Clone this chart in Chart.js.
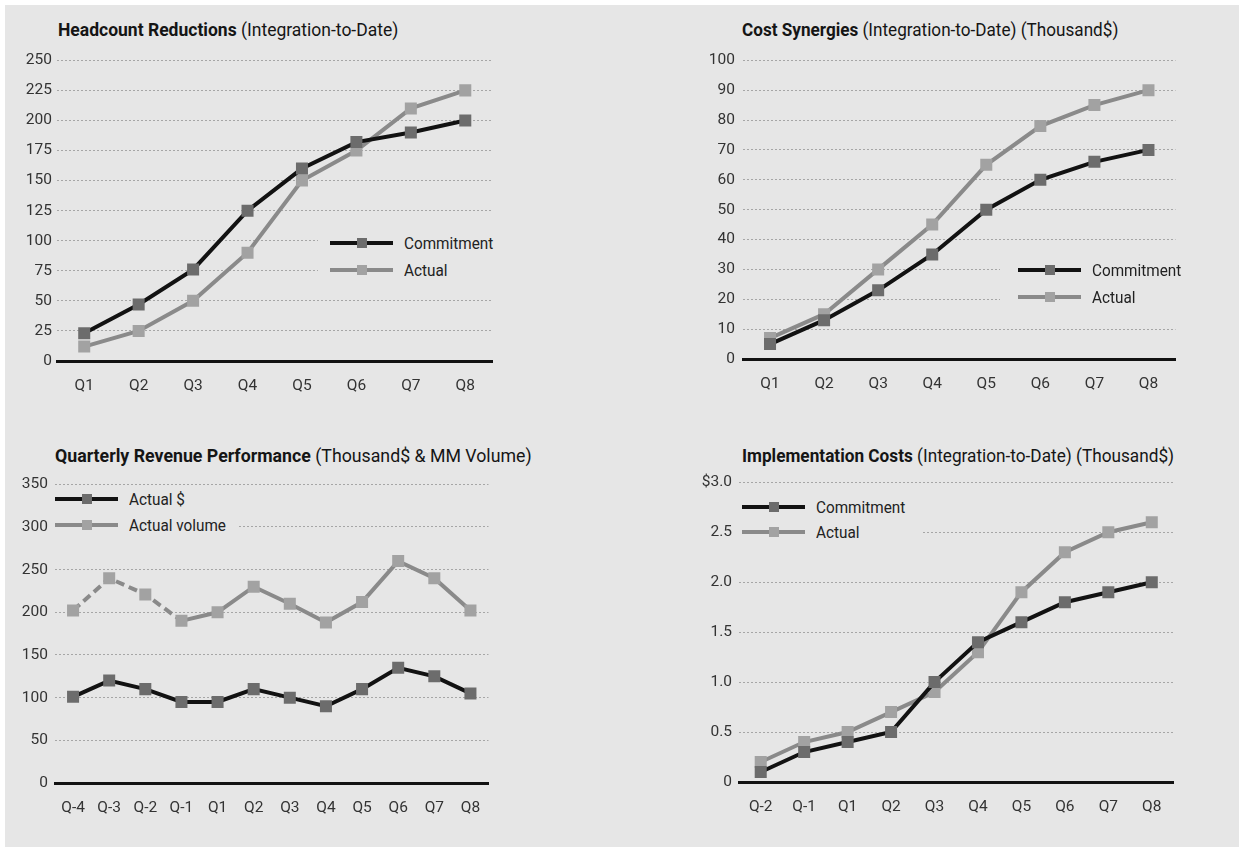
<!DOCTYPE html>
<html>
<head>
<meta charset="utf-8">
<script src="https://cdn.jsdelivr.net/npm/chart.js@4.4.0/dist/chart.umd.min.js"></script>
<style>
  body { margin: 0; width: 1239px; height: 847px; overflow: hidden; position: relative; background: #fff;
         font-family: Roboto, "Liberation Sans", sans-serif; }
  #bg { position: absolute; left: 5px; top: 5px; right: 0; bottom: 0; background: #e6e6e6; }
  canvas { position: absolute; }
  .title { position: absolute; font-size: 19px; color: #151515; white-space: nowrap; line-height: 1;
           transform-origin: 0 50%; }
  .title b { font-weight: bold; }
  .legend { position: absolute; background: #e6e6e6; }
  .item { position: absolute; left: 0; height: 20px; width: 100%; }
  .item .ln { position: absolute; left: 0; top: 8px; width: 63px; height: 4px; }
  .item .mk { position: absolute; left: 27px; top: 5px; width: 10px; height: 10px; }
  .item span { position: absolute; left: 74px; top: 0; font-size: 17px; color: #222; line-height: 20px;
               white-space: nowrap; transform: scaleX(0.9); transform-origin: 0 50%; }
</style>
</head>
<body>
<div id="bg"></div>

<div class="title" data-w="340" style="left:58px;top:20px"><b>Headcount Reductions</b> (Integration-to-Date)</div>
<div class="title" data-w="376" style="left:742px;top:20px"><b>Cost Synergies</b> (Integration-to-Date) (Thousand$)</div>
<div class="title" data-w="477" style="left:55px;top:446px"><b>Quarterly Revenue Performance</b> (Thousand$ &amp; MM Volume)</div>
<div class="title" data-w="432" style="left:742px;top:446px"><b>Implementation Costs</b> (Integration-to-Date) (Thousand$)</div>

<canvas id="c1"></canvas>
<canvas id="c2"></canvas>
<canvas id="c3"></canvas>
<canvas id="c4"></canvas>

<script>
// ---- data ----
const quarters = ['Q1', 'Q2', 'Q3', 'Q4', 'Q5', 'Q6', 'Q7', 'Q8'];
const headcountCommitment = [23, 47, 76, 125, 160, 182, 190, 200];
const headcountActual = [12, 25, 50, 90, 150, 175, 210, 225];

const synergyCommitment = [5, 13, 23, 35, 50, 60, 66, 70];
const synergyActual = [7, 15, 30, 45, 65, 78, 85, 90];

const revenueQuarters = ['Q-4', 'Q-3', 'Q-2', 'Q-1', 'Q1', 'Q2', 'Q3', 'Q4', 'Q5', 'Q6', 'Q7', 'Q8'];
const revenueDollars = [101, 120, 110, 95, 95, 110, 100, 90, 110, 135, 125, 105];
const revenueVolume = [202, 240, 221, 190, 200, 230, 210, 188, 212, 260, 240, 202];

const implQuarters = ['Q-2', 'Q-1', 'Q1', 'Q2', 'Q3', 'Q4', 'Q5', 'Q6', 'Q7', 'Q8'];
const implCommitment = [0.1, 0.3, 0.4, 0.5, 1.0, 1.4, 1.6, 1.8, 1.9, 2.0];
const implActual = [0.2, 0.4, 0.5, 0.7, 0.9, 1.3, 1.9, 2.3, 2.5, 2.6];

const headcountTicks = [0, 25, 50, 75, 100, 125, 150, 175, 200, 225, 250];
const synergyTicks = [0, 10, 20, 30, 40, 50, 60, 70, 80, 90, 100];
const revenueTicks = [0, 50, 100, 150, 200, 250, 300, 350];
const implTickLabels = ['0', '0.5', '1.0', '1.5', '2.0', '2.5', '$3.0'];

// ---- styles ----
const FONT = 'Roboto, "Liberation Sans", sans-serif';
const BLACK = '#121212', DARK_MK = '#6c6c6c', GREY = '#8a8a8a', LIGHT_MK = '#a2a2a2';

Chart.defaults.font.family = FONT;
Chart.defaults.font.size = 15.5;
Chart.defaults.color = '#333';

// squeeze the titles to the condensed width of the original
document.querySelectorAll('.title').forEach(t => {
  const k = +t.dataset.w / t.offsetWidth;
  t.style.transform = `scaleX(${k})`;
});

function line(label, data, dark, extra) {
  return Object.assign({
    label: label,
    data: data,
    borderColor: dark ? BLACK : GREY,
    backgroundColor: dark ? DARK_MK : LIGHT_MK,
    borderWidth: 4,
    pointStyle: 'rect',
    pointRadius: 8.5,
    pointBorderWidth: 0,
    pointBackgroundColor: dark ? DARK_MK : LIGHT_MK,
    tension: 0
  }, extra || {});
}

function makeChart(id, box, labels, datasets, yMax, yStep, fmt, labelGap) {
  const W = 60, H = 34, padTop = 12, padRight = 4;
  const cv = document.getElementById(id);
  const left = box.l - W, top = box.t - padTop;
  cv.width = box.r - left + padRight;
  cv.height = box.b - top + H;
  cv.style.left = left + 'px';
  cv.style.top = top + 'px';
  return new Chart(cv, {
    type: 'line',
    data: { labels: labels, datasets: datasets },
    options: {
      responsive: false,
      animation: false,
      layout: { padding: { top: padTop, right: padRight, left: 0, bottom: 0 } },
      plugins: { legend: { display: false }, tooltip: { enabled: false } },
      scales: {
        x: {
          offset: true,
          grid: { display: false },
          border: { display: true, color: BLACK, width: 3 },
          ticks: { padding: 8, color: '#333', autoSkip: false, maxRotation: 0 },
          afterFit: s => { s.height = H; }
        },
        y: {
          min: 0, max: yMax,
          grid: { color: '#a6a6a6', lineWidth: 1, drawTicks: false },
          border: { display: false, dash: [2, 2] },
          ticks: { stepSize: yStep, padding: labelGap, color: '#333', callback: fmt },
          afterFit: s => { s.width = W; }
        }
      }
    }
  });
}

makeChart('c1', { l: 57, r: 497, t: 58, b: 361 }, quarters, [
  line('Commitment', headcountCommitment, true),
  line('Actual', headcountActual, false)
], 250, 25, (v, i) => headcountTicks[i], 5);

makeChart('c2', { l: 743, r: 1180, t: 55, b: 359 }, quarters, [
  line('Commitment', synergyCommitment, true),
  line('Actual', synergyActual, false)
], 100, 10, (v, i) => synergyTicks[i], 8);

makeChart('c3', { l: 55, r: 493, t: 480, b: 783 }, revenueQuarters, [
  line('Actual $', revenueDollars, true),
  line('Actual volume', revenueVolume, false, {
    segment: { borderDash: c => c.p0DataIndex < 3 ? [9, 5] : undefined }
  })
], 350, 50, (v, i) => revenueTicks[i], 7);

makeChart('c4', { l: 739, r: 1178, t: 478, b: 782 }, implQuarters, [
  line('Commitment', implCommitment, true),
  line('Actual', implActual, false)
], 3, 0.5, (v, i) => implTickLabels[i], 7);

// ---- legends (boxes hide the grid lines behind them, as in the original) ----
function legend(x, y, w, h, items, lineX, rowYs) {
  const d = document.createElement('div');
  d.className = 'legend';
  d.style.cssText = `left:${x}px;top:${y}px;width:${w}px;height:${h}px`;
  items.forEach((it, i) => {
    const r = document.createElement('div');
    r.className = 'item';
    r.style.left = (lineX - x) + 'px';
    r.style.top = (rowYs[i] - y - 10) + 'px';
    r.innerHTML = `<div class="ln" style="background:${it.dark ? BLACK : GREY}"></div>` +
      `<div class="mk" style="background:${it.dark ? DARK_MK : LIGHT_MK}"></div><span>${it.label}</span>`;
    d.appendChild(r);
  });
  document.body.appendChild(d);
}
legend(318, 224, 180, 64, [{ label: 'Commitment', dark: true }, { label: 'Actual', dark: false }], 330, [243, 270]);
legend(1000, 252, 181, 62, [{ label: 'Commitment', dark: true }, { label: 'Actual', dark: false }], 1018, [270, 297]);
legend(54, 488, 184, 52, [{ label: 'Actual $', dark: true }, { label: 'Actual volume', dark: false }], 55, [499, 525]);
legend(738, 494, 184, 52, [{ label: 'Commitment', dark: true }, { label: 'Actual', dark: false }], 742, [507, 532]);
</script>
</body>
</html>
